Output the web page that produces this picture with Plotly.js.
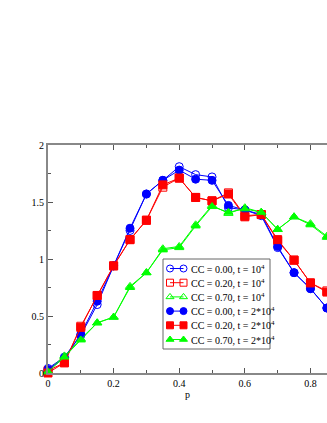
<!DOCTYPE html>
<html>
<head>
<meta charset="utf-8">
<script src="https://cdn.plot.ly/plotly-3.0.1.min.js"></script>
<style>
  html, body { margin: 0; padding: 0; background: #fff; }
  #chart { width: 327px; height: 423px; }
</style>
</head>
<body>
<div id="chart"></div>
<script>
const p = [0, 0.05, 0.1, 0.15, 0.2, 0.25, 0.3, 0.35, 0.4, 0.45, 0.5, 0.55, 0.6, 0.65, 0.7, 0.75, 0.8, 0.85];

// t = 10^4 (open markers)
const cc00_t1 = [0.04, 0.14, 0.33, 0.60, 0.94, 1.25, 1.57, 1.69, 1.81, 1.74, 1.72, 1.45, 1.43, 1.38, 1.10, 0.88, 0.74, 0.57];
const cc20_t1 = [0.02, 0.09, 0.41, 0.68, 0.94, 1.17, 1.34, 1.63, 1.71, 1.54, 1.51, 1.58, 1.38, 1.39, 1.16, 0.99, 0.79, 0.72];
const cc70_t1 = [0.02, 0.15, 0.30, 0.44, 0.49, 0.76, 0.88, 1.09, 1.11, 1.30, 1.47, 1.40, 1.45, 1.41, 1.26, 1.37, 1.31, 1.20];

// t = 2*10^4 (filled markers)
const cc00_t2 = [0.03, 0.13, 0.34, 0.63, 0.94, 1.27, 1.57, 1.69, 1.78, 1.70, 1.69, 1.47, 1.43, 1.39, 1.11, 0.88, 0.74, 0.57];
const cc20_t2 = [0.00, 0.09, 0.40, 0.68, 0.94, 1.17, 1.34, 1.65, 1.71, 1.54, 1.51, 1.57, 1.37, 1.39, 1.17, 0.99, 0.79, 0.71];
const cc70_t2 = [0.01, 0.14, 0.29, 0.44, 0.49, 0.75, 0.88, 1.08, 1.10, 1.29, 1.46, 1.41, 1.44, 1.41, 1.26, 1.37, 1.30, 1.19];

const names = [
  'CC = 0.00, t = 10<sup>4</sup>',
  'CC = 0.20, t = 10<sup>4</sup>',
  'CC = 0.70, t = 10<sup>4</sup>',
  'CC = 0.00, t = 2*10<sup>4</sup>',
  'CC = 0.20, t = 2*10<sup>4</sup>',
  'CC = 0.70, t = 2*10<sup>4</sup>'
];
const colors = ['#0000ff', '#ff0000', '#00ff00', '#0000ff', '#ff0000', '#00ff00'];
const symbols = ['circle-open', 'square-open', 'triangle-up-open', 'circle', 'square', 'triangle-up'];
const series = [cc00_t1, cc20_t1, cc70_t1, cc00_t2, cc20_t2, cc70_t2];

const font = { family: 'Liberation Serif, serif', size: 10, color: '#000' };

const data = series.map((y, i) => ({
  x: p, y: y, name: names[i],
  type: 'scatter', mode: 'lines+markers',
  cliponaxis: false, showlegend: false,
  line: { color: colors[i], width: 1 },
  marker: { color: colors[i], symbol: symbols[i], size: 8, line: { color: colors[i], width: 1 } }
}));

// hand-made legend on an overlay axis pair measured in page pixels
const box = { x0: 163, x1: 270, y0: 259, y1: 349 };
const rowY0 = 268.5, rowStep = 14.2;
data.push({
  x: [box.x0, box.x1, box.x1, box.x0, box.x0],
  y: [box.y0, box.y0, box.y1, box.y1, box.y0],
  xaxis: 'x2', yaxis: 'y2', type: 'scatter', mode: 'lines',
  fill: 'toself', fillcolor: '#fff', line: { color: '#666', width: 1 },
  showlegend: false, hoverinfo: 'skip'
});
const annotations = [];
names.forEach((n, i) => {
  const ry = rowY0 + i * rowStep;
  data.push({
    x: [170, 183.5], y: [ry, ry], xaxis: 'x2', yaxis: 'y2',
    type: 'scatter', mode: 'lines+markers', showlegend: false, hoverinfo: 'skip',
    line: { color: colors[i], width: 1 },
    marker: { color: colors[i], symbol: symbols[i], size: 7, line: { color: colors[i], width: 1 } }
  });
  annotations.push({
    xref: 'x2', yref: 'y2', x: 189, y: ry, xanchor: 'left', yanchor: 'middle',
    text: n, showarrow: false, font: font
  });
});
// y axis title
annotations.push({
  xref: 'x2', yref: 'y2', x: 29, y: 259, xanchor: 'center', yanchor: 'middle',
  text: 'D(p)', textangle: -90, showarrow: false, font: font
});

const layout = {
  width: 327, height: 423,
  margin: { l: 48, r: 0, t: 145, b: 50 },
  paper_bgcolor: '#fff', plot_bgcolor: '#fff',
  font: font,
  showlegend: false,
  annotations: annotations,
  xaxis: {
    range: [0, 0.8504],
    tickvals: [0, 0.2, 0.4, 0.6, 0.8],
    ticktext: ['0', '0.2', '0.4', '0.6', '0.8'],
    ticks: 'inside', ticklen: 5, tickwidth: 1, tickcolor: '#555',
    minor: { dtick: 0.1, tick0: 0, ticks: 'inside', ticklen: 3, tickcolor: '#555' },
    showline: true, linecolor: '#888', linewidth: 2, mirror: 'allticks',
    showgrid: false, zeroline: false,
    tickfont: font,
    title: { text: 'p', font: font, standoff: 0 }
  },
  yaxis: {
    range: [0, 2],
    tickvals: [0, 0.5, 1, 1.5, 2],
    ticktext: ['0', '0.5', '1', '1.5', '2'],
    ticks: 'inside', ticklen: 5, tickwidth: 1, tickcolor: '#555',
    minor: { dtick: 0.25, tick0: 0, ticks: 'inside', ticklen: 3, tickcolor: '#555' },
    showline: true, linecolor: '#888', linewidth: 2,
    showgrid: false, zeroline: false,
    tickfont: font
  },
  xaxis2: { overlaying: 'x', range: [48, 327], visible: false, fixedrange: true },
  yaxis2: { overlaying: 'y', range: [373, 145], visible: false, fixedrange: true }
};

Plotly.newPlot('chart', data, layout, { displayModeBar: false, staticPlot: true });
</script>
</body>
</html>
